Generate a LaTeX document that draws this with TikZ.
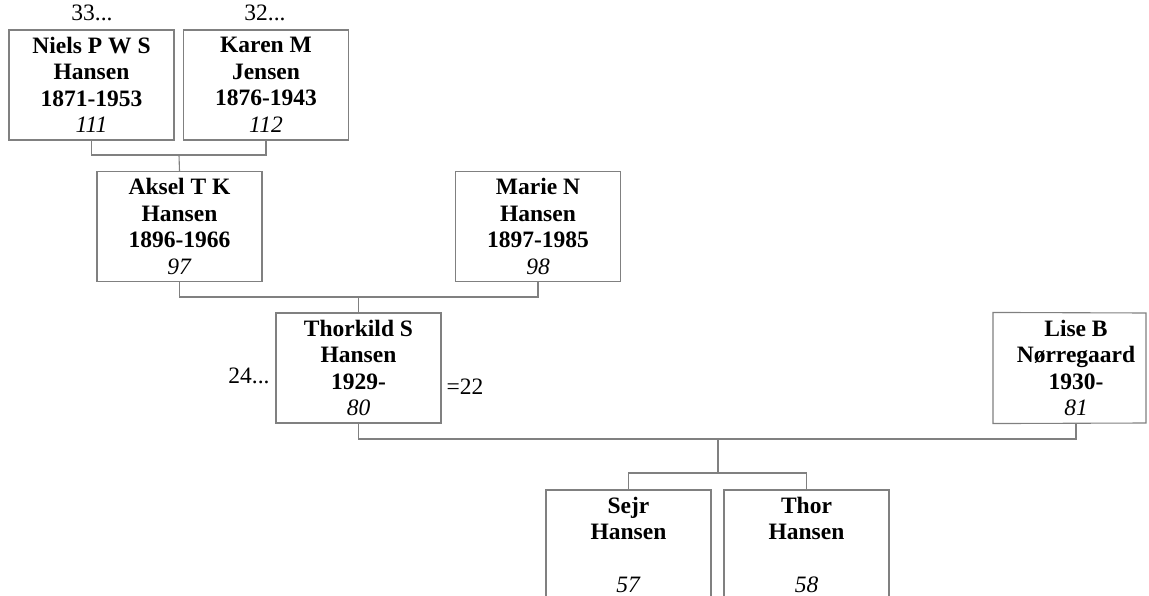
\documentclass[tikz,border=0pt]{standalone}
\usepackage{fontspec}
\setmainfont{Liberation Serif}
\usepackage{tikz}
\usetikzlibrary{calc}

\tikzset{
    person/.style={draw=black!50, line width=1.1pt, minimum width=165pt, minimum height=110pt,
        inner sep=0pt, align=center, font=\fontsize{23.5}{26.5}\selectfont},
    link/.style={draw=black!50, line width=1.1pt},
    tag/.style={inner sep=0pt, font=\fontsize{23.5}{26.5}\selectfont}
}

\begin{document}
\begin{tikzpicture}[x=1pt, y=-1pt]
    \useasboundingbox (0,0) rectangle (1149,596);
    \clip (0,0) rectangle (1149,596);

    % generation 1
    \node[person] (niels) at (91.5,85) {\textbf{Niels P W S}\\\textbf{Hansen}\\\textbf{1871-1953}\\\textit{111}};
    \node[person] (karen) at (266,85) {\textbf{Karen M}\\\textbf{Jensen}\\\textbf{1876-1943}\\\textit{112}};
    \node[tag] (nielsref) at (92,13) {33...};
    \node[tag] (karenref) at (265,13) {32...};

    % generation 2
    \node[person] (aksel) at (179.5,226.5) {\textbf{Aksel T K}\\\textbf{Hansen}\\\textbf{1896-1966}\\\textit{97}};
    \node[person] (marie) at (538,226.5) {\textbf{Marie N}\\\textbf{Hansen}\\\textbf{1897-1985}\\\textit{98}};

    % generation 3
    \node[person] (thorkild) at (358.5,368) {\textbf{Thorkild S}\\\textbf{Hansen}\\\textbf{1929-}\\\textit{80}};
    \node[person, draw=none] (lise) at (1076,368) {\textbf{Lise B}\\\textbf{Nørregaard}\\\textbf{1930-}\\\textit{81}};
    \draw[link] (lise.north west) -- (1146,313) -- (1146,423) -- (lise.south west) -- cycle;
    \node[tag] (thorkildref) at (249,376) {24...};
    \node[tag] (thorkildspouse) at (465,387) {=22};

    % generation 4
    \node[person] (sejr) at (628.5,545) {\textbf{Sejr}\\\textbf{Hansen}\\~\\\textit{57}};
    \node[person] (thor) at (806.5,545) {\textbf{Thor}\\\textbf{Hansen}\\~\\\textit{58}};

    % families
    \coordinate (f1) at (179,155);
    \coordinate (f2) at (358.5,297);
    \coordinate (f3) at (718,439);
    \coordinate (k3) at (718,473);

    \draw[link] (niels.south) |- (f1) -| (karen.south);
    \draw[link] (f1) -- (aksel.north);
    \draw[link] (aksel.south) |- (f2) -| (marie.south);
    \draw[link] (f2) -- (thorkild.north);
    \draw[link] (thorkild.south) |- (f3) -| (lise.south);
    \draw[link] (f3) -- (k3);
    \draw[link] (sejr.north) |- (k3) -| (thor.north);
\end{tikzpicture}
\end{document}
